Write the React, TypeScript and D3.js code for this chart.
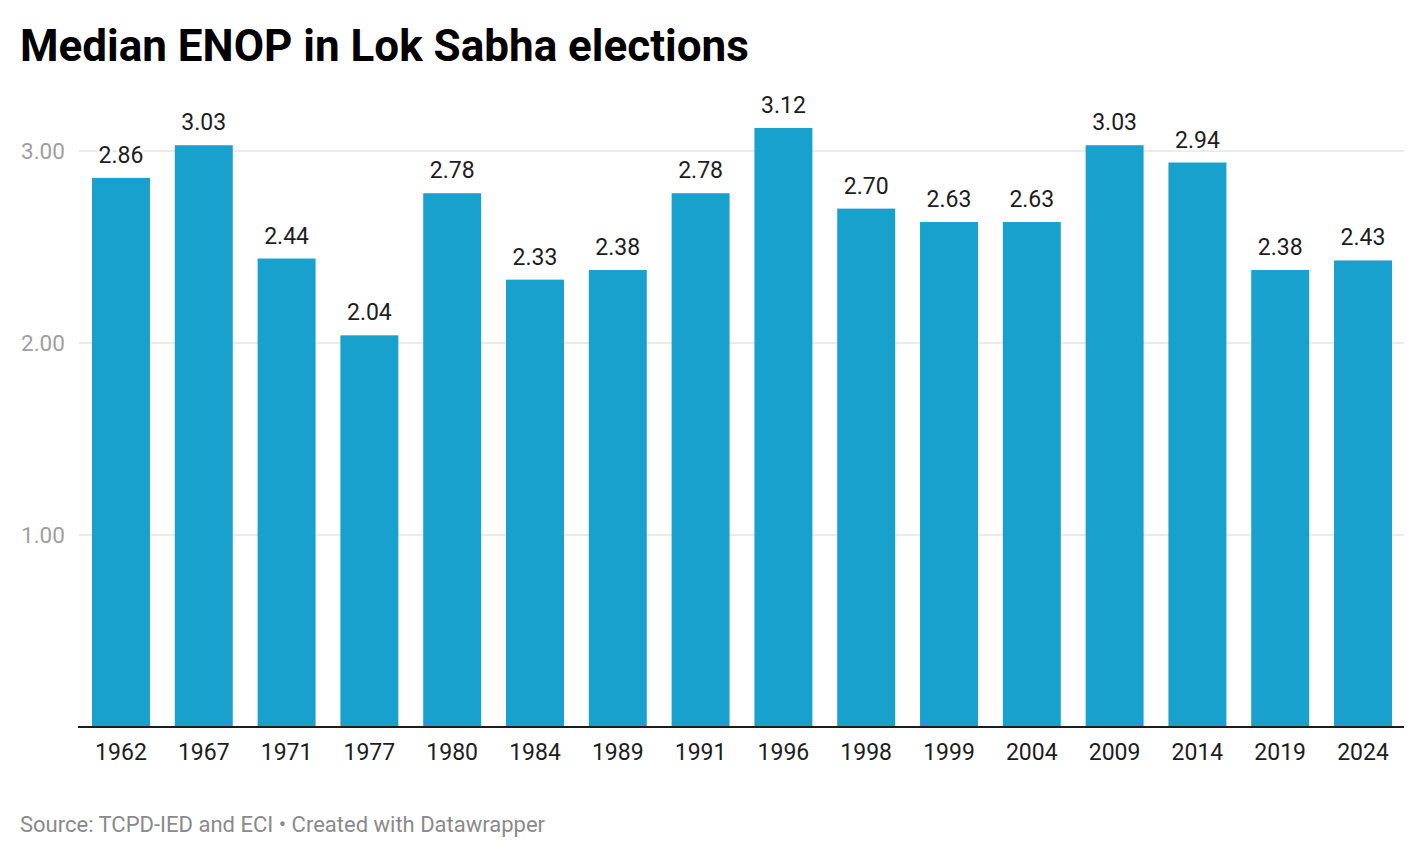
import { useEffect, useRef } from 'react';
import * as d3 from 'd3';

const years = ['1962', '1967', '1971', '1977', '1980', '1984', '1989', '1991', '1996', '1998', '1999', '2004', '2009', '2014', '2019', '2024'];
const enop = [2.86, 3.03, 2.44, 2.04, 2.78, 2.33, 2.38, 2.78, 3.12, 2.7, 2.63, 2.63, 3.03, 2.94, 2.38, 2.43];
const yTicks = [1, 2, 3];

const W = 1424;
const H = 858;
const FONT = 'Roboto, sans-serif';

const App = () => {
  const ref = useRef(null);

  useEffect(() => {
    const svg = d3.select(ref.current);
    svg.selectAll('*').remove();

    const x = d3.scaleBand().domain(years).range([92, 1392]).paddingInner(0.3).paddingOuter(0);
    const y = d3.scaleLinear().domain([0, 1]).range([727, 535]);

    // title
    svg
      .append('text')
      .attr('x', 20)
      .attr('y', 61)
      .style('font', `bold 44px ${FONT}`)
      .attr('fill', '#000')
      .text('Median ENOP in Lok Sabha elections');

    // gridlines + y labels
    const grid = svg.append('g');
    yTicks.forEach((t) => {
      grid
        .append('line')
        .attr('x1', 79)
        .attr('x2', 1404)
        .attr('y1', y(t))
        .attr('y2', y(t))
        .attr('stroke', '#e3e3e3')
        .attr('stroke-width', 1.5);
      grid
        .append('text')
        .attr('x', 21)
        .attr('y', y(t))
        .attr('dy', '0.36em')
        .style('font', `22.5px ${FONT}`)
        .attr('fill', '#a0a0a0')
        .text(d3.format('.2f')(t));
    });

    // bars
    svg
      .append('g')
      .selectAll('rect')
      .data(enop)
      .enter()
      .append('rect')
      .attr('x', (_d, i) => x(years[i]) as number)
      .attr('y', (d) => y(d))
      .attr('width', x.bandwidth())
      .attr('height', (d) => y(0) - y(d))
      .attr('fill', '#18a1cd');

    // value labels with white halo
    svg
      .append('g')
      .selectAll('text')
      .data(enop)
      .enter()
      .append('text')
      .attr('x', (_d, i) => (x(years[i]) as number) + x.bandwidth() / 2)
      .attr('y', (d) => y(d) - 15)
      .attr('text-anchor', 'middle')
      .style('font', `23px ${FONT}`)
      .attr('fill', '#1d1d1d')
      .attr('stroke', '#fff')
      .attr('stroke-width', 5)
      .attr('paint-order', 'stroke')
      .text((d) => d3.format('.2f')(d));

    // baseline
    svg
      .append('line')
      .attr('x1', 78)
      .attr('x2', 1404)
      .attr('y1', y(0))
      .attr('y2', y(0))
      .attr('stroke', '#1d1d1d')
      .attr('stroke-width', 2);

    // x labels
    svg
      .append('g')
      .selectAll('text')
      .data(years)
      .enter()
      .append('text')
      .attr('x', (d) => (x(d) as number) + x.bandwidth() / 2)
      .attr('y', 760)
      .attr('text-anchor', 'middle')
      .style('font', `23px ${FONT}`)
      .attr('fill', '#1d1d1d')
      .text((d) => d);

    // source
    svg
      .append('text')
      .attr('x', 20)
      .attr('y', 832)
      .style('font', `22px ${FONT}`)
      .attr('fill', '#8a8a8a')
      .text('Source: TCPD-IED and ECI • Created with Datawrapper');
  }, []);

  return (
    <svg
      ref={ref}
      width={W}
      height={H}
      style={{ position: 'absolute', left: 0, top: 0, background: '#fff' }}
    />
  );
};

export default App;
